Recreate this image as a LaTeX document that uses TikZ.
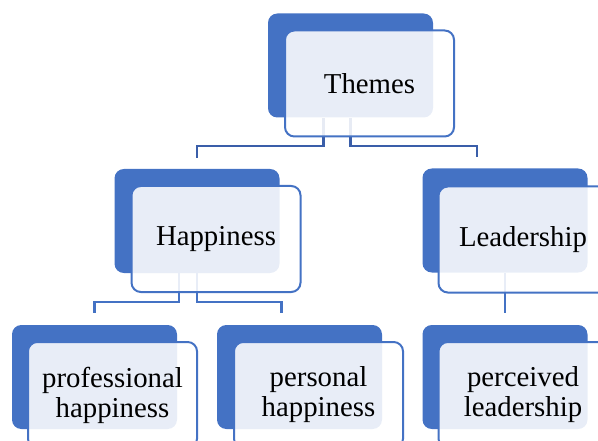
\documentclass[tikz,border=0pt]{standalone}
\usepackage{fontspec}
\setmainfont{Liberation Serif}
\usetikzlibrary{calc}
\definecolor{accent}{HTML}{4472C4}
\definecolor{linkdark}{HTML}{3A5EA9}

\begin{document}
\begin{tikzpicture}[x=0.75pt, y=-0.75pt,
    back/.style={fill=accent, rounded corners=7pt, minimum width=123.75pt, minimum height=78pt, inner sep=0pt},
    front/.style={draw=accent, line width=1.5pt, fill=white, fill opacity=0.88, text opacity=1,
        rounded corners=7pt, minimum width=126.75pt, minimum height=79.5pt, inner sep=0pt,
        align=center, font=\fontsize{21.6}{22.5}\selectfont},
    link/.style={draw=accent, line width=1.7pt}]
    \useasboundingbox (0,0) rectangle (598,441);

    % dark blocks behind each box
    \node [back] (themes-bg) at (350.5,65.5) {};
    \node [back] (happy-bg) at (197,221) {};
    \node [back] (lead-bg) at (505,220.5) {};
    \node [back] (prof-bg) at (94.5,377) {};
    \node [back] (pers-bg) at (299.5,377) {};
    \node [back] (perc-bg) at (505,377) {};

    % elbow links, drawn under the boxes
    \draw [link, draw=linkdark] ($(themes-bg.south)+(-27,0)$) -- ++(0,28.5) -| ($(happy-bg.north)+(0,-11)$) ;
    \draw [link, draw=linkdark] (themes-bg.south) -- ++(0,28.5) -| ($(lead-bg.north)+(-28,-11)$) ;
    \draw [link] ($(happy-bg.south)+(-18,0)$) -- ++(0,29) -| ($(prof-bg.north)+(0,-12)$) ;
    \draw [link] (happy-bg.south) -- ++(0,29) -| ($(pers-bg.north)+(-18,-12)$) ;
    \draw [link] (lead-bg.south) -- ($(perc-bg.north)+(0,-12)$) ;

    % text boxes
    \node [front] (themes) at (369.5,83.5) {Themes};
    \node [front] (happy) at (216,239) {Happiness};
    \node [front] (lead) at (523,239.5) {Leadership};
    \node [front] (prof) at (112.5,395) {professional\\happiness};
    \node [front] (pers) at (318.5,395) {personal\\happiness};
    \node [front] (perc) at (523,395) {perceived\\leadership};
\end{tikzpicture}
\end{document}
